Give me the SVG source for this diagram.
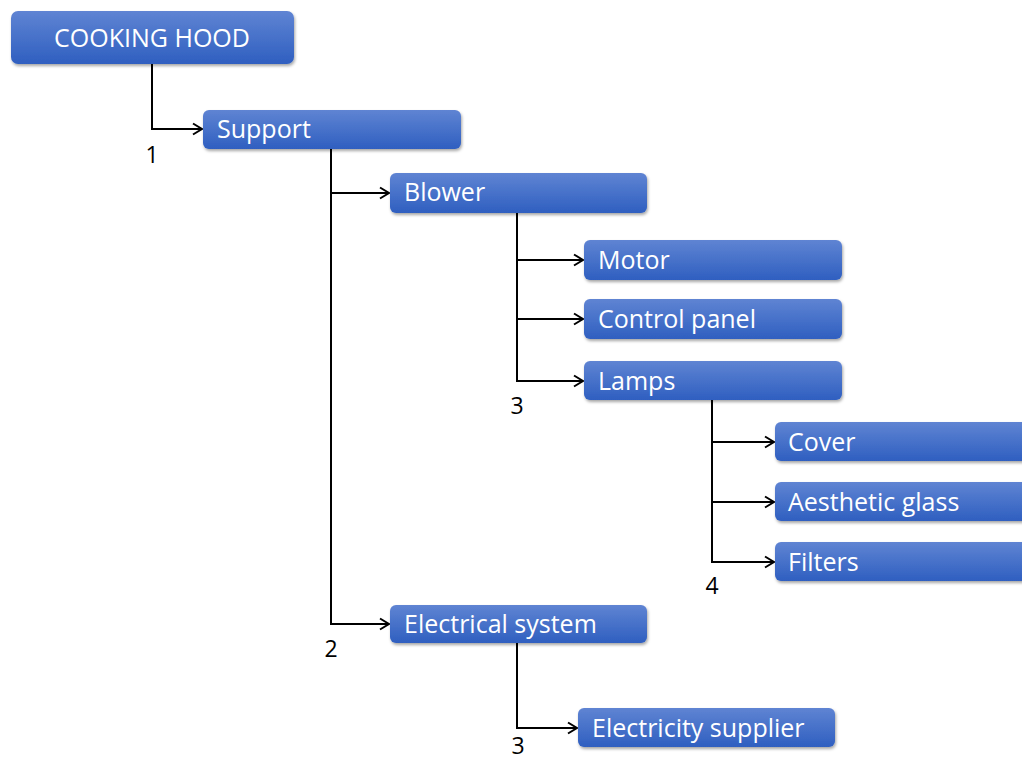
<svg xmlns="http://www.w3.org/2000/svg" width="1022" height="760" viewBox="0 0 1022 760">
<style>
.box{fill:url(#g);filter:url(#sh)}
.t{font-family:"Open Sans","Noto Sans","Liberation Sans",sans-serif;font-size:25px;fill:#ffffff}
.n{font-family:"Open Sans","Noto Sans","Liberation Sans",sans-serif;font-size:23px;fill:#000000;text-anchor:middle}
.c{fill:none;stroke:#000;stroke-width:2;marker-end:url(#a)}
</style>
<defs>
<linearGradient id="g" x1="0" y1="0" x2="0" y2="1">
<stop offset="0" stop-color="#5f84d3"/>
<stop offset="1" stop-color="#2f5fc0"/>
</linearGradient>
<filter id="sh" x="-10%" y="-30%" width="120%" height="170%">
<feDropShadow dx="1" dy="2" stdDeviation="1.5" flood-color="#000" flood-opacity="0.35"/>
</filter>
<marker id="a" markerWidth="14" markerHeight="14" refX="11" refY="7" orient="auto" markerUnits="userSpaceOnUse">
<path d="M2,1.5 L11,7 L2,12.5" fill="none" stroke="#000" stroke-width="2"/>
</marker>
</defs>
<rect width="1022" height="760" fill="#ffffff"/>
<g id="connectors">
<path class="c" d="M152,64 V129 H202"/>
<path class="c" d="M331,149 V193 H389"/>
<path class="c" d="M331,193 V624 H389"/>
<path class="c" d="M517,213 V260 H583"/>
<path class="c" d="M517,260 V319 H583"/>
<path class="c" d="M517,319 V381 H583"/>
<path class="c" d="M712,400 V442 H774"/>
<path class="c" d="M712,442 V502 H774"/>
<path class="c" d="M712,502 V562 H774"/>
<path class="c" d="M517,643 V728 H577"/>
<text class="n" x="152" y="163">1</text>
<text class="n" x="331" y="657">2</text>
<text class="n" x="517" y="414">3</text>
<text class="n" x="712" y="594">4</text>
<text class="n" x="518" y="754">3</text>
</g>
<g id="cooking-hood"><rect class="box" x="11" y="11" width="283" height="53" rx="7"/><text class="t" x="152" y="47" text-anchor="middle">COOKING HOOD</text></g>
<g id="support"><rect class="box" x="203" y="110" width="258" height="39" rx="6"/><text class="t" x="217" y="138">Support</text></g>
<g id="blower"><rect class="box" x="390" y="173" width="257" height="40" rx="6"/><text class="t" x="404" y="201">Blower</text></g>
<g id="motor"><rect class="box" x="584" y="240" width="258" height="40" rx="6"/><text class="t" x="598" y="269">Motor</text></g>
<g id="control-panel"><rect class="box" x="584" y="299" width="258" height="40" rx="6"/><text class="t" x="598" y="328">Control panel</text></g>
<g id="lamps"><rect class="box" x="584" y="361" width="258" height="39" rx="6"/><text class="t" x="598" y="390">Lamps</text></g>
<g id="cover"><rect class="box" x="775" y="422" width="260" height="39" rx="6"/><text class="t" x="788" y="451">Cover</text></g>
<g id="aesthetic-glass"><rect class="box" x="775" y="482" width="260" height="39" rx="6"/><text class="t" x="788" y="511">Aesthetic glass</text></g>
<g id="filters"><rect class="box" x="775" y="542" width="260" height="39" rx="6"/><text class="t" x="788" y="571">Filters</text></g>
<g id="electrical-system"><rect class="box" x="390" y="605" width="257" height="38" rx="6"/><text class="t" x="404" y="633">Electrical system</text></g>
<g id="electricity-supplier"><rect class="box" x="578" y="708" width="257" height="39" rx="6"/><text class="t" x="592" y="737">Electricity supplier</text></g>
</svg>
